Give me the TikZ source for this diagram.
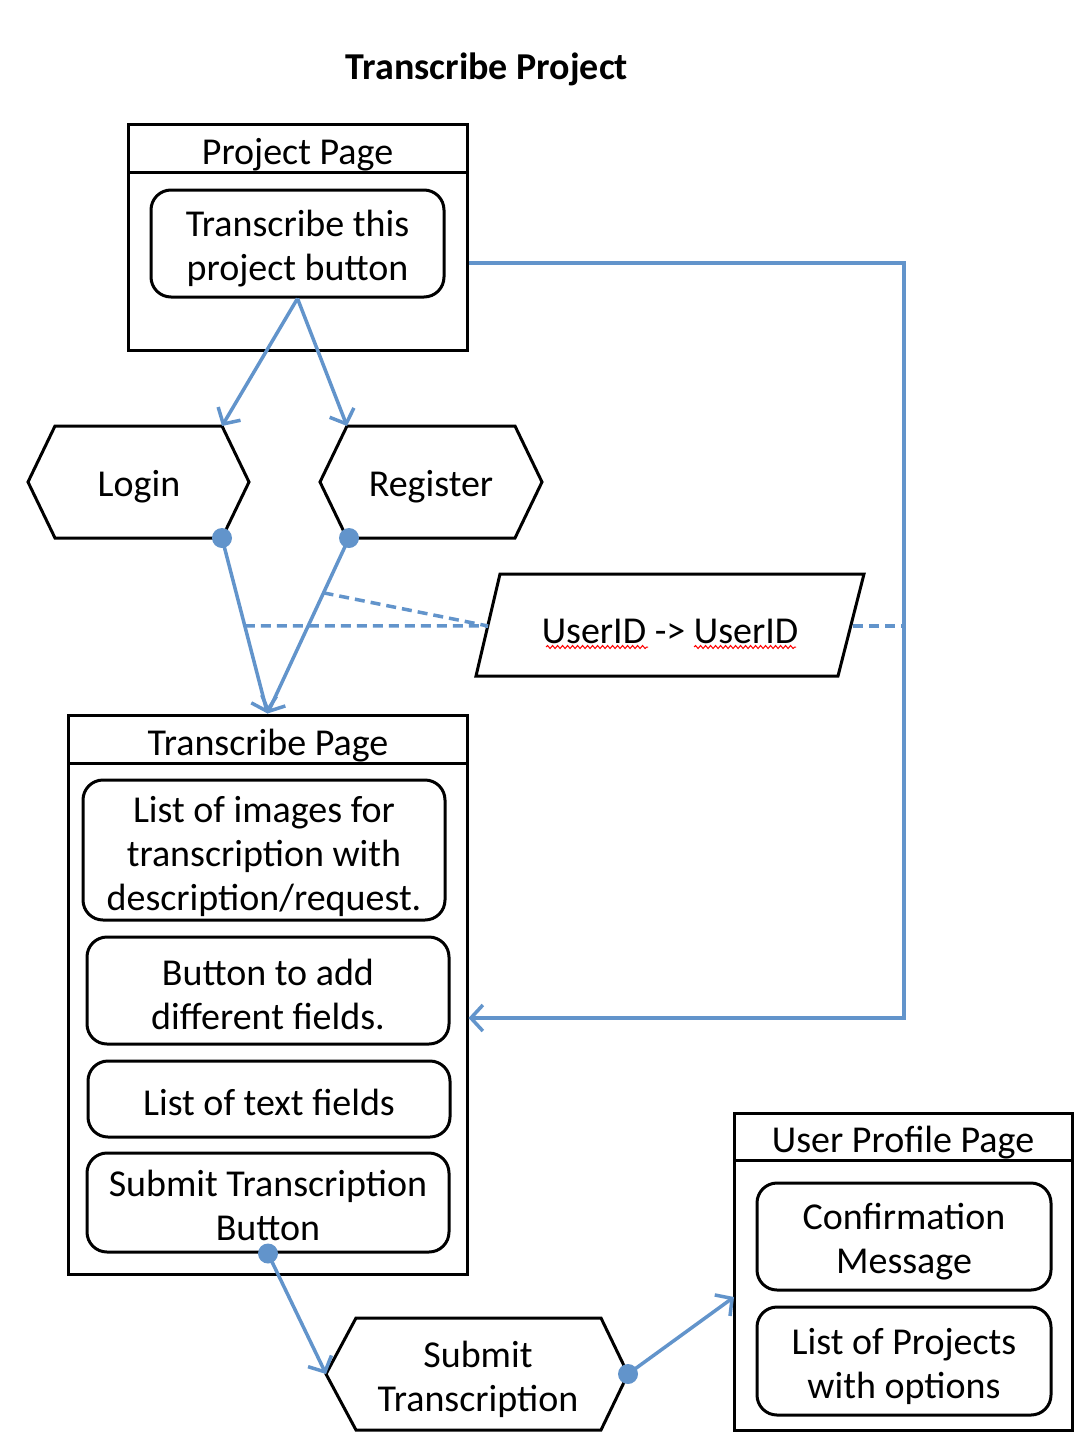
\documentclass[tikz,border=0pt]{standalone}
\usepackage{fontspec}
\setmainfont{Carlito}
\usetikzlibrary{arrows.meta,decorations.pathmorphing,calc}
\definecolor{flowblue}{RGB}{98,148,203}
\tikzset{
  blk/.style={draw=black,line width=3pt},
  inbox/.style={draw=black,line width=3pt,rounded corners=20pt},
  lbl/.style={font=\fontsize{38}{44}\selectfont,align=center,inner sep=0pt},
  flow/.style={draw=flowblue,line width=3.5pt,-{Straight Barb[length=12pt,width=26pt]}},
  dashflow/.style={draw=flowblue,line width=3.5pt,dash pattern=on 10pt off 6pt},
  dotnode/.style={circle,fill=flowblue,minimum size=20pt,inner sep=0pt},
  squiggle/.style={draw=red,line width=1pt,decorate,decoration={snake,amplitude=1.5pt,segment length=5pt}},
}
\begin{document}
\begin{tikzpicture}[x=1pt,y=-1pt]
\useasboundingbox (0,0) rectangle (1092,1456);

% title
\node[lbl,font=\fontsize{38}{44}\selectfont\bfseries] (title) at (487,69) {Transcribe Project};

% Project Page
\node[blk,minimum width=339pt,minimum height=226pt] (pp) at (297.5,237) {};
\draw[blk] (128,172) -- (467,172);
\node[lbl] (pptitle) at (297.5,155) {Project Page};
\node[inbox,minimum width=293pt,minimum height=107pt] (tbtn) at (297.5,243.5) {};
\node[lbl] (tbtntext) at (297.5,249) {Transcribe this\\project button};

% Login hexagon
\coordinate (lgL) at (28,482);
\coordinate (lgTL) at (55,426);
\coordinate (lgTR) at (222,426);
\coordinate (lgR) at (249,482);
\coordinate (lgBR) at (222,538);
\coordinate (lgBL) at (55,538);
\draw[blk,line join=miter] (lgL) -- (lgTL) -- (lgTR) -- (lgR) -- (lgBR) -- (lgBL) -- cycle;
\node[lbl] (login) at (139,487) {Login};

% Register hexagon
\coordinate (rgL) at (320,482);
\coordinate (rgTL) at (347,426);
\coordinate (rgTR) at (515,426);
\coordinate (rgR) at (542,482);
\coordinate (rgBR) at (515,538);
\coordinate (rgBL) at (347,538);
\draw[blk,line join=miter] (rgL) -- (rgTL) -- (rgTR) -- (rgR) -- (rgBR) -- (rgBL) -- cycle;
\node[lbl] (register) at (431,487) {Register};

% Transcribe Page
\node[blk,minimum width=399pt,minimum height=559pt] (tp) at (267.5,994.5) {};
\draw[blk] (68,763) -- (467,763);
\node[lbl] (tptitle) at (268,746) {Transcribe Page};
\node[inbox,minimum width=362pt,minimum height=140pt] (imgs) at (264,850) {};
\node[lbl] (imgstext) at (264,856) {List of images for\\transcription with\\description/request.};
\node[inbox,minimum width=362pt,minimum height=107pt] (addbtn) at (268,990.5) {};
\node[lbl] (addtext) at (268,994) {Button to add\\different fields.};
\node[inbox,minimum width=362pt,minimum height=76pt] (fields) at (269,1099) {};
\node[lbl] (fieldstext) at (269,1102) {List of text fields};
\node[inbox,minimum width=362pt,minimum height=99pt] (subbtn) at (268,1202.5) {};
\node[lbl] (subtext) at (268,1205.5) {Submit Transcription\\Button};

% UserID parallelogram
\coordinate (pTL) at (500,574);
\coordinate (pTR) at (864,574);
\coordinate (pBR) at (838,676);
\coordinate (pBL) at (476,676);
\draw[blk,line join=miter] (pTL) -- (pTR) -- (pBR) -- (pBL) -- cycle;
\node[lbl] (uid) at (670,631) {UserID -> UserID};
\draw[squiggle] (546,647) -- (648,647);
\draw[squiggle] (694,647) -- (796,647);
\coordinate (pL) at (488,626);
\coordinate (pR) at (853,626);

% Submit hexagon
\coordinate (sL) at (326,1374);
\coordinate (sTL) at (356,1318);
\coordinate (sTR) at (601,1318);
\coordinate (sR) at (628,1374);
\coordinate (sBR) at (601,1430);
\coordinate (sBL) at (356,1430);
\draw[blk,line join=miter] (sL) -- (sTL) -- (sTR) -- (sR) -- (sBR) -- (sBL) -- cycle;
\node[lbl] (submit) at (478,1379) {Submit\\Transcription};

% User Profile Page
\node[blk,minimum width=338pt,minimum height=317pt] (upp) at (903,1271.5) {};
\draw[blk] (734,1160) -- (1072,1160);
\node[lbl] (upptitle) at (903,1143) {User Profile Page};
\node[inbox,minimum width=294pt,minimum height=107pt] (confirm) at (904,1236.5) {};
\node[lbl] (confirmtext) at (904,1242) {Confirmation\\Message};
\node[inbox,minimum width=294pt,minimum height=108pt] (projlist) at (904,1361) {};
\node[lbl] (projtext) at (904,1366) {List of Projects\\with options};

% connectors
\draw[flow] (tbtn.south) -- (lgTR);
\draw[flow] (tbtn.south) -- (rgTL);

\node[dotnode] (d1) at (lgBR) {};
\node[dotnode] (d2) at (349,538) {};
\draw[flow] (d1.center) -- (tp.north);
\draw[flow] (d2.center) -- (tp.north);
\coordinate (m1) at ($(d1.center)!0.5!(tp.north)$);
\coordinate (m2) at ($(d2.center)!0.3125!(tp.north)$);
\draw[dashflow] (m1) -- (pL);
\draw[dashflow] (m2) -- (pL);

\coordinate (r1) at (904,263);
\coordinate (r2) at (904,1018);
\draw[dashflow] (pR) -- (r1 |- pR);
\draw[flow,line join=miter] (pp.east |- r1) -- (r1) -- (r2) -- (tp.east |- r2);

\node[dotnode] (d3) at (subbtn.south) {};
\draw[flow] (d3.center) -- (sL);
\node[dotnode] (d4) at (sR) {};
\coordinate (uin) at (734,1297);
\draw[flow] (d4.center) -- (uin);
\end{tikzpicture}
\end{document}
